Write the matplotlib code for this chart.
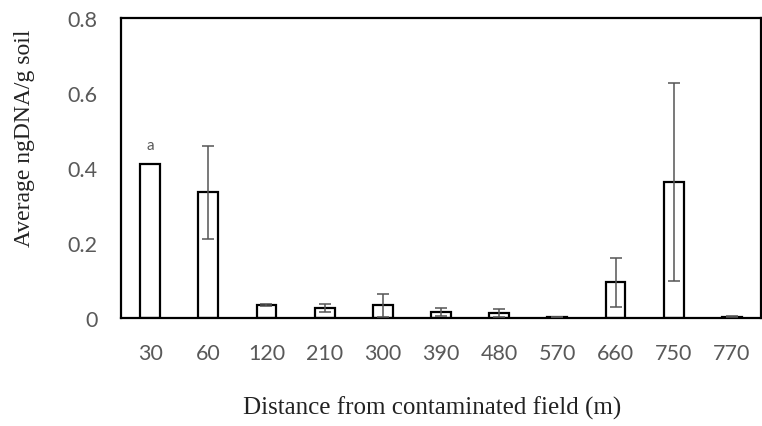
import matplotlib
matplotlib.use("Agg")
import matplotlib.pyplot as plt
import numpy as np

categories = ["30", "60", "120", "210", "300", "390", "480", "570", "660", "750", "770"]
values = [0.41, 0.335, 0.035, 0.026, 0.034, 0.016, 0.013, 0.003, 0.095, 0.363, 0.004]
errors = [0.0, 0.125, 0.003, 0.011, 0.03, 0.011, 0.011, 0.001, 0.065, 0.265, 0.001]
yticks = [0, 0.2, 0.4, 0.6, 0.8]
ytick_labels = ["0", "0.2", "0.4", "0.6", "0.8"]

fig = plt.figure(figsize=(7.62, 4.27), dpi=100)
ax = fig.add_axes([121/762, 108/427, 640/762, 300/427])

x = np.arange(len(categories))
ax.bar(x, values, width=0.34, color="white", edgecolor="black", linewidth=1.6, zorder=2)
mask = np.array(errors) > 0
ax.errorbar(x[mask], np.array(values)[mask], yerr=np.array(errors)[mask], fmt="none",
            ecolor="#555555", elinewidth=1.1, capsize=4, capthick=1.1, zorder=3)

ax.text(0, 0.462, "a", ha="center", va="center", fontsize=11, color="#595959", family="Lato")

ax.set_xlim(-0.5, 10.5)
ax.set_ylim(0, 0.8)
ax.set_xticks(x)
ax.set_xticklabels(categories, fontsize=15.5, color="#595959", family="Lato")
ax.set_yticks(yticks)
ax.set_yticklabels(ytick_labels, fontsize=15.5, color="#595959", family="Lato")
ax.tick_params(axis="both", length=0)
ax.tick_params(axis="y", pad=17)
ax.tick_params(axis="x", pad=18)
for s in ax.spines.values():
    s.set_linewidth(1.6)
    s.set_color("black")

fig.text(432/762, 1 - 408/427, "Distance from contaminated field (m)", ha="center", va="center",
         fontsize=18, family="Liberation Serif", color="#222222")
fig.text(25/762, 1 - 138/427, "Average ngDNA/g soil", ha="center", va="center", rotation=90,
         fontsize=17, family="Liberation Serif", color="#222222")

fig.savefig("out.png", dpi=100)
